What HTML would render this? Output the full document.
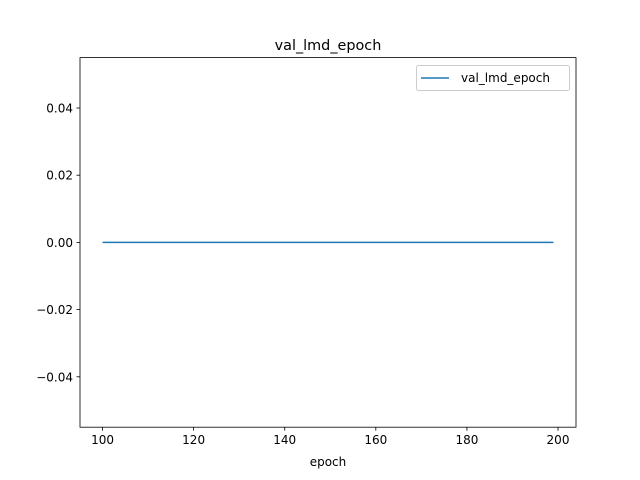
<!DOCTYPE html>
<html><head><meta charset="utf-8"><style>
body{margin:0;background:#fff}
svg{display:block;font-family:"DejaVu Sans","Liberation Sans",sans-serif}
</style></head><body>
<svg id="chart" width="640" height="480" viewBox="0 0 640 480">
<rect width="640" height="480" fill="#fff"/>
<text x="328" y="50" font-size="14.4" text-anchor="middle">val_lmd_epoch</text>
<g id="xt"></g><g id="yt"></g>
<path id="line" fill="none" stroke="#1f77b4" stroke-width="1.5"/>
<rect x="80" y="57.6" width="496" height="369.6" fill="none" stroke="#000" stroke-width="0.8"/>
<text x="328" y="466" font-size="12" text-anchor="middle">epoch</text>
<g>
<rect x="416.5" y="65.5" width="153" height="25" rx="2" fill="#fff" stroke="#ccc" stroke-width="1"/>
<line x1="421" y1="78" x2="449" y2="78" stroke="#1f77b4" stroke-width="1.5"/>
<text x="461" y="82" font-size="12">val_lmd_epoch</text>
</g>
</svg>
<script>
const epochs=[100,199];
const values=[0,0];
const xTicks=[100,120,140,160,180,200];
const yTicks=[-0.04,-0.02,0,0.02,0.04];
const yLabels=["\u22120.04","\u22120.02","0.00","0.02","0.04"];
const X0=80,X1=576,Y0=57.6,Y1=427.2,xmin=95.05,xmax=203.95,ymin=-0.055,ymax=0.055;
const sx=v=>X0+(v-xmin)/(xmax-xmin)*(X1-X0);
const sy=v=>Y1-(v-ymin)/(ymax-ymin)*(Y1-Y0);
const NS="http://www.w3.org/2000/svg";
const xt=document.getElementById('xt'),yt=document.getElementById('yt');
xTicks.forEach(t=>{
 const l=document.createElementNS(NS,'line');
 l.setAttribute('x1',sx(t));l.setAttribute('x2',sx(t));l.setAttribute('y1',Y1);l.setAttribute('y2',Y1+3.5);l.setAttribute('stroke','#000');l.setAttribute('stroke-width','0.8');
 
 
 xt.appendChild(l);
 const tx=document.createElementNS(NS,'text');
 tx.setAttribute('x',sx(t));tx.setAttribute('y',Y1+17);tx.setAttribute('font-size','12');tx.setAttribute('text-anchor','middle');
 tx.textContent=t;
 
 
 xt.appendChild(tx);
});
yTicks.forEach((t,i)=>{
 const l=document.createElementNS(NS,'line');
 l.setAttribute('x1',X0-3.5);l.setAttribute('x2',X0);l.setAttribute('y1',sy(t));l.setAttribute('y2',sy(t));l.setAttribute('stroke','#000');l.setAttribute('stroke-width','0.8');
 
 
 yt.appendChild(l);
 const tx=document.createElementNS(NS,'text');
 tx.setAttribute('x',X0-7);tx.setAttribute('y',sy(t)+4.5);tx.setAttribute('font-size','12');tx.setAttribute('text-anchor','end');
 tx.textContent=yLabels[i];
 
 
 yt.appendChild(tx);
});
document.getElementById('line').setAttribute('d',epochs.map((e,i)=>(i?'L':'M')+sx(e)+' '+sy(values[i])).join(' '));
</script>
</body></html>
